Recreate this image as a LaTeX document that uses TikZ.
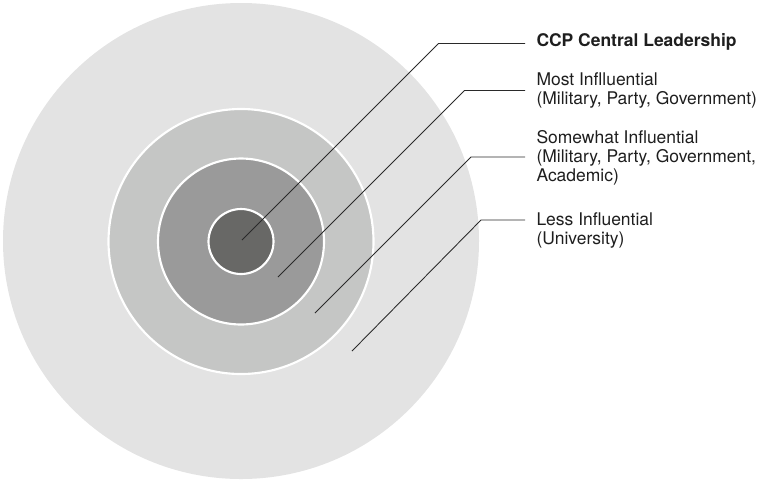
\documentclass[tikz,border=0pt]{standalone}
\usepackage{fontspec}
\setmainfont{TeX Gyre Heros}

\definecolor{ringouter}{HTML}{E3E3E3}
\definecolor{ringmid}{HTML}{C5C6C5}
\definecolor{ringinner}{HTML}{9A9A9A}
\definecolor{ringcore}{HTML}{686866}
\definecolor{leadgray}{HTML}{2A2A2A}
\definecolor{textgray}{HTML}{1E1E1E}

\tikzset{every picture/.style={line width=0.75pt}}
\tikzset{
  ring/.style={draw=white, line width=1.6pt},
  leader/.style={draw=leadgray, line width=0.65pt},
  tag/.style={anchor=base west, align=left, inner xsep=8.25pt, inner ysep=0pt,
    font=\fontsize{13.1}{14.1}\selectfont, text=textgray},
}

\begin{document}
\begin{tikzpicture}[x=0.75pt,y=0.75pt,yscale=-1,xscale=1]
\useasboundingbox (0,0) rectangle (760,480);
%Shape: Circle Outer
\fill[ringouter] (241,241) circle (238);
%Shape: Circle Second
\path[ring, fill=ringmid] (241,241.5) circle (132.5);
%Shape: Circle Third
\path[ring, fill=ringinner] (241,241.5) circle (83);
%Shape: Circle Core
\path[ring, fill=ringcore] (241,241.5) circle (32.5);
% Leader points
\coordinate (p1) at (242,240);
\coordinate (k1) at (438.5,43.5);
\coordinate (p2) at (278,277);
\coordinate (k2) at (464.5,90.5);
\coordinate (p3) at (315,313);
\coordinate (k3) at (471,157);
\coordinate (p4) at (352,351);
\coordinate (k4) at (481,220);
% Text Node (base = last line)
\node (core) [tag] at (525,46.5) {\bfseries CCP Central Leadership};
% Text Node
\node (most) [tag] at (525,104) {Most Inflluential\\(Military, Party, Government)};
% Text Node
\node (some) [tag] at (525,181.5) {Somewhat Influential\\(Military, Party, Government,\\Academic)};
% Text Node
\node (less) [tag] at (525,244) {Less Influential\\(University)};
% Leaders
\draw[leader] (p1) -- (k1) -- (k1 -| core.west);
\draw[leader] (p2) -- (k2) -- (k2 -| most.west);
\draw[leader] (p3) -- (k3) -- (k3 -| some.west);
\draw[leader] (p4) -- (k4) -- (k4 -| less.west);
\end{tikzpicture}
\end{document}
